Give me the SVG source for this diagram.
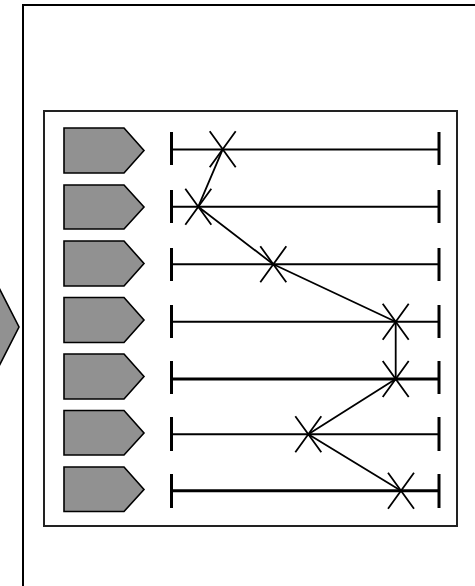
<svg xmlns="http://www.w3.org/2000/svg" width="475" height="586" viewBox="0 0 475 586">
<defs>
<style>
.frame{fill:none;stroke:#000;stroke-width:2}
.box{fill:#fff;stroke:#222;stroke-width:2}
.pent{fill:#919191;stroke:#000;stroke-width:1.6;stroke-linejoin:miter}
.line{stroke:#000;stroke-width:2;fill:none}
.thick{stroke-width:3}
.tick{stroke:#000;stroke-width:3}
.x{stroke:#000;stroke-width:1.8;fill:none}
.conn{stroke:#000;stroke-width:1.8;fill:none;stroke-linejoin:round}
</style>
<symbol id="xm" overflow="visible"><path d="M-13,-18 L13,18 M13,-18 L-13,18"/></symbol>
</defs>
<rect id="frame" class="frame" x="23" y="5" width="520" height="700"/>
<g id="side-pentagon"><polygon class="pent" points="-20,280 -5,280 19,327 -5,374 -20,374"/></g>
<g id="panel"><rect class="box" x="44" y="111" width="413" height="415"/></g>
<g id="rows">
<g id="row1"><polygon class="pent" points="64,128 124,128 144,150.5 124,173 64,173"/><line class="line" x1="171.5" y1="149.5" x2="439" y2="149.5"/><line class="tick" x1="171.5" y1="132" x2="171.5" y2="165"/><line class="tick" x1="439" y1="132" x2="439" y2="165"/></g>
<g id="row2"><polygon class="pent" points="64,185 124,185 144,207 124,229 64,229"/><line class="line" x1="171.5" y1="206.7" x2="439" y2="206.7"/><line class="tick" x1="171.5" y1="190" x2="171.5" y2="223"/><line class="tick" x1="439" y1="190" x2="439" y2="223" stroke-width="2"/></g>
<g id="row3"><polygon class="pent" points="64,241 124,241 144,263.5 124,286 64,286"/><line class="line" x1="171.5" y1="264.3" x2="439" y2="264.3"/><line class="tick" x1="171.5" y1="248" x2="171.5" y2="281"/><line class="tick" x1="439" y1="248" x2="439" y2="281"/></g>
<g id="row4"><polygon class="pent" points="64,297.5 124,297.5 144,320 124,342.5 64,342.5"/><line class="line" x1="171.5" y1="321.7" x2="439" y2="321.7"/><line class="tick" x1="171.5" y1="305" x2="171.5" y2="338"/><line class="tick" x1="439" y1="305" x2="439" y2="338"/></g>
<g id="row5"><polygon class="pent" points="64,354 124,354 144,376.5 124,399 64,399"/><line class="line thick" x1="171.5" y1="379" x2="439" y2="379"/><line class="tick" x1="171.5" y1="361" x2="171.5" y2="394"/><line class="tick" x1="439" y1="361" x2="439" y2="394"/></g>
<g id="row6"><polygon class="pent" points="64,410.5 124,410.5 144,433 124,455 64,455"/><line class="line" x1="171.5" y1="434.3" x2="439" y2="434.3"/><line class="tick" x1="171.5" y1="417" x2="171.5" y2="451"/><line class="tick" x1="439" y1="417" x2="439" y2="451"/></g>
<g id="row7"><polygon class="pent" points="64,467 124,467 144,489.5 124,511.5 64,511.5"/><line class="line thick" x1="171.5" y1="490.7" x2="439" y2="490.7"/><line class="tick" x1="171.5" y1="474" x2="171.5" y2="508"/><line class="tick" x1="439" y1="474" x2="439" y2="508"/></g>
</g>
<g id="markers" class="x">
<use href="#xm" x="222.7" y="149.3"/>
<use href="#xm" x="198.3" y="206.7"/>
<use href="#xm" x="273.3" y="264.3"/>
<use href="#xm" x="395.7" y="321.7"/>
<use href="#xm" x="395.7" y="379"/>
<use href="#xm" x="308.3" y="434.3"/>
<use href="#xm" x="401" y="490.7"/>
</g>
<g id="connectors"><polyline class="conn" points="222.7,149.3 198.3,206.7 273.3,264.3 395.7,321.7 395.7,379 308.3,434.3 401,490.7"/></g>
</svg>
